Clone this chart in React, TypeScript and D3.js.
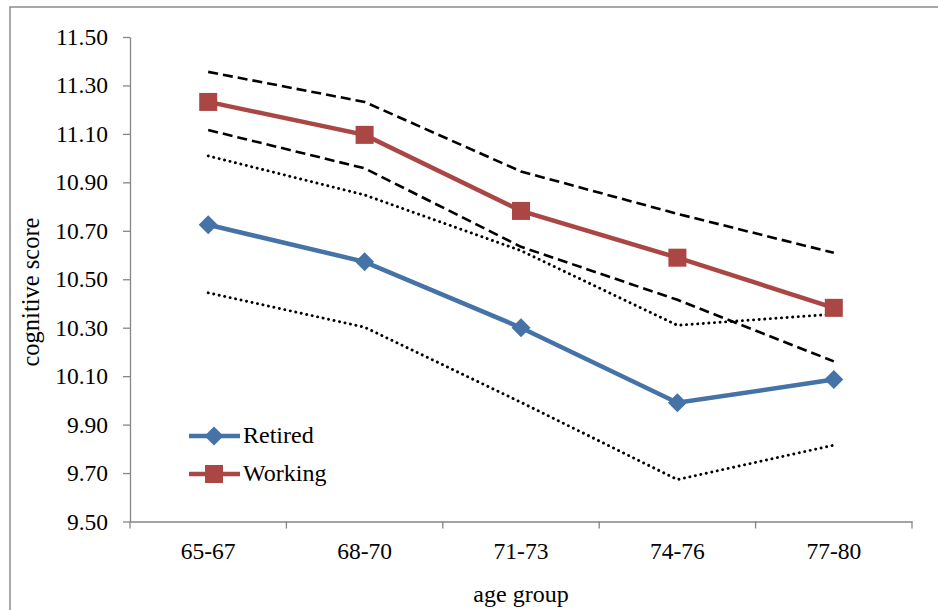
import React, { useEffect, useRef } from 'react'
import * as d3 from 'd3'

const ageGroups = ['65-67', '68-70', '71-73', '74-76', '77-80']
const retired = [10.725, 10.572, 10.3, 9.99, 10.086]
const working = [11.232, 11.096, 10.782, 10.589, 10.382]
const workingUpper = [11.356, 11.232, 10.945, 10.77, 10.609]
const workingLower = [11.116, 10.958, 10.634, 10.415, 10.161]
const retiredUpper = [11.009, 10.848, 10.618, 10.31, 10.356]
const retiredLower = [10.444, 10.302, 9.992, 9.673, 9.815]
const yTicks = [9.5, 9.7, 9.9, 10.1, 10.3, 10.5, 10.7, 10.9, 11.1, 11.3, 11.5]

const W = 938
const H = 610
const FONT = 'Liberation Serif, Times New Roman, serif'
const BLUE = '#4572a7'
const RED = '#aa4643'
const GRAY = '#868686'

const App = () => {
  const svgRef = useRef<SVGSVGElement>(null)

  useEffect(() => {
    const svg = d3.select(svgRef.current)
    svg.selectAll('*').remove()

    const x = d3.scaleBand().domain(ageGroups).range([130, 912])
    const y = d3.scaleLinear().domain([9.5, 11.5]).range([521.5, 37])
    const cx = (i: number) => (x(ageGroups[i]) as number) + x.bandwidth() / 2

    // frame
    svg.append('rect')
      .attr('x', 10).attr('y', 7).attr('width', 1000).attr('height', 700)
      .attr('fill', 'none').attr('stroke', '#8c8c8c').attr('stroke-width', 1.5)

    // y axis
    const yAxis = svg.append('g').attr('transform', 'translate(130,0)')
      .call(d3.axisLeft(y).tickValues(yTicks).tickSize(7).tickSizeOuter(0).tickFormat(d3.format('.2f')))
    yAxis.attr('font-family', FONT).attr('font-size', 23.5)
    yAxis.select('.domain').attr('stroke', GRAY).attr('stroke-width', 1.3)
    yAxis.selectAll('.tick line').attr('stroke', GRAY).attr('stroke-width', 1.3)
    yAxis.selectAll('.tick text').attr('x', -22).attr('fill', '#000')

    // x axis
    const xAxis = svg.append('g').attr('transform', 'translate(0,521.5)')
      .call(d3.axisBottom(x).tickSize(0).tickSizeOuter(0))
    xAxis.attr('font-family', FONT).attr('font-size', 23.5)
    xAxis.select('.domain').attr('stroke', GRAY).attr('stroke-width', 1.3)
    xAxis.selectAll('.tick text').attr('y', 21).attr('fill', '#000')
    const edges = ageGroups.map(g => x(g) as number).concat([x.range()[1]])
    svg.append('g').selectAll('line').data(edges).join('line')
      .attr('x1', d => d).attr('x2', d => d)
      .attr('y1', 521.5).attr('y2', 528.5)
      .attr('stroke', GRAY).attr('stroke-width', 1.3)

    // titles
    svg.append('text')
      .attr('x', 521).attr('y', 602).attr('text-anchor', 'middle')
      .attr('font-family', FONT).attr('font-size', 24)
      .text('age group')
    svg.append('text')
      .attr('transform', 'translate(39,292) rotate(-90)').attr('text-anchor', 'middle')
      .attr('font-family', FONT).attr('font-size', 24.5)
      .text('cognitive score')

    const line = d3.line<number>().x((_, i) => cx(i)).y(d => y(d))

    // confidence bands
    ;[workingUpper, workingLower].forEach(s => {
      svg.append('path').attr('d', line(s) as string)
        .attr('fill', 'none').attr('stroke', '#000').attr('stroke-width', 2.6)
        .attr('stroke-dasharray', '10,5')
    })
    ;[retiredUpper, retiredLower].forEach(s => {
      svg.append('path').attr('d', line(s) as string)
        .attr('fill', 'none').attr('stroke', '#000').attr('stroke-width', 2.9)
        .attr('stroke-dasharray', '0.1,5.5').attr('stroke-linecap', 'round')
    })

    // series
    svg.append('path').attr('d', line(retired) as string)
      .attr('fill', 'none').attr('stroke', BLUE).attr('stroke-width', 4.5)
    svg.append('path').attr('d', line(working) as string)
      .attr('fill', 'none').attr('stroke', RED).attr('stroke-width', 4.5)

    const diamond = d3.symbol().type(d3.symbolSquare).size(180)
    svg.append('g').selectAll('path').data(retired).join('path')
      .attr('d', diamond() as string)
      .attr('transform', (d, i) => `translate(${cx(i)},${y(d)}) rotate(45)`)
      .attr('fill', BLUE)
    svg.append('g').selectAll('rect').data(working).join('rect')
      .attr('x', (_, i) => cx(i) - 9).attr('y', d => y(d) - 9)
      .attr('width', 18).attr('height', 18)
      .attr('fill', RED)

    // legend
    const leg = svg.append('g').attr('font-family', FONT).attr('font-size', 24)
    leg.append('line').attr('x1', 189).attr('x2', 240).attr('y1', 436).attr('y2', 436)
      .attr('stroke', BLUE).attr('stroke-width', 4.5)
    leg.append('path').attr('d', diamond() as string)
      .attr('transform', 'translate(214,436) rotate(45)').attr('fill', BLUE)
    leg.append('text').attr('x', 243).attr('y', 443).text('Retired')
    leg.append('line').attr('x1', 189).attr('x2', 240).attr('y1', 474).attr('y2', 474)
      .attr('stroke', RED).attr('stroke-width', 4.5)
    leg.append('rect').attr('x', 205).attr('y', 465).attr('width', 18).attr('height', 18)
      .attr('fill', RED)
    leg.append('text').attr('x', 243).attr('y', 481).text('Working')
  }, [])

  return (
    <svg ref={svgRef} width={W} height={H}
      style={{ position: 'absolute', left: 0, top: 0, background: '#fff' }} />
  )
}

export default App
